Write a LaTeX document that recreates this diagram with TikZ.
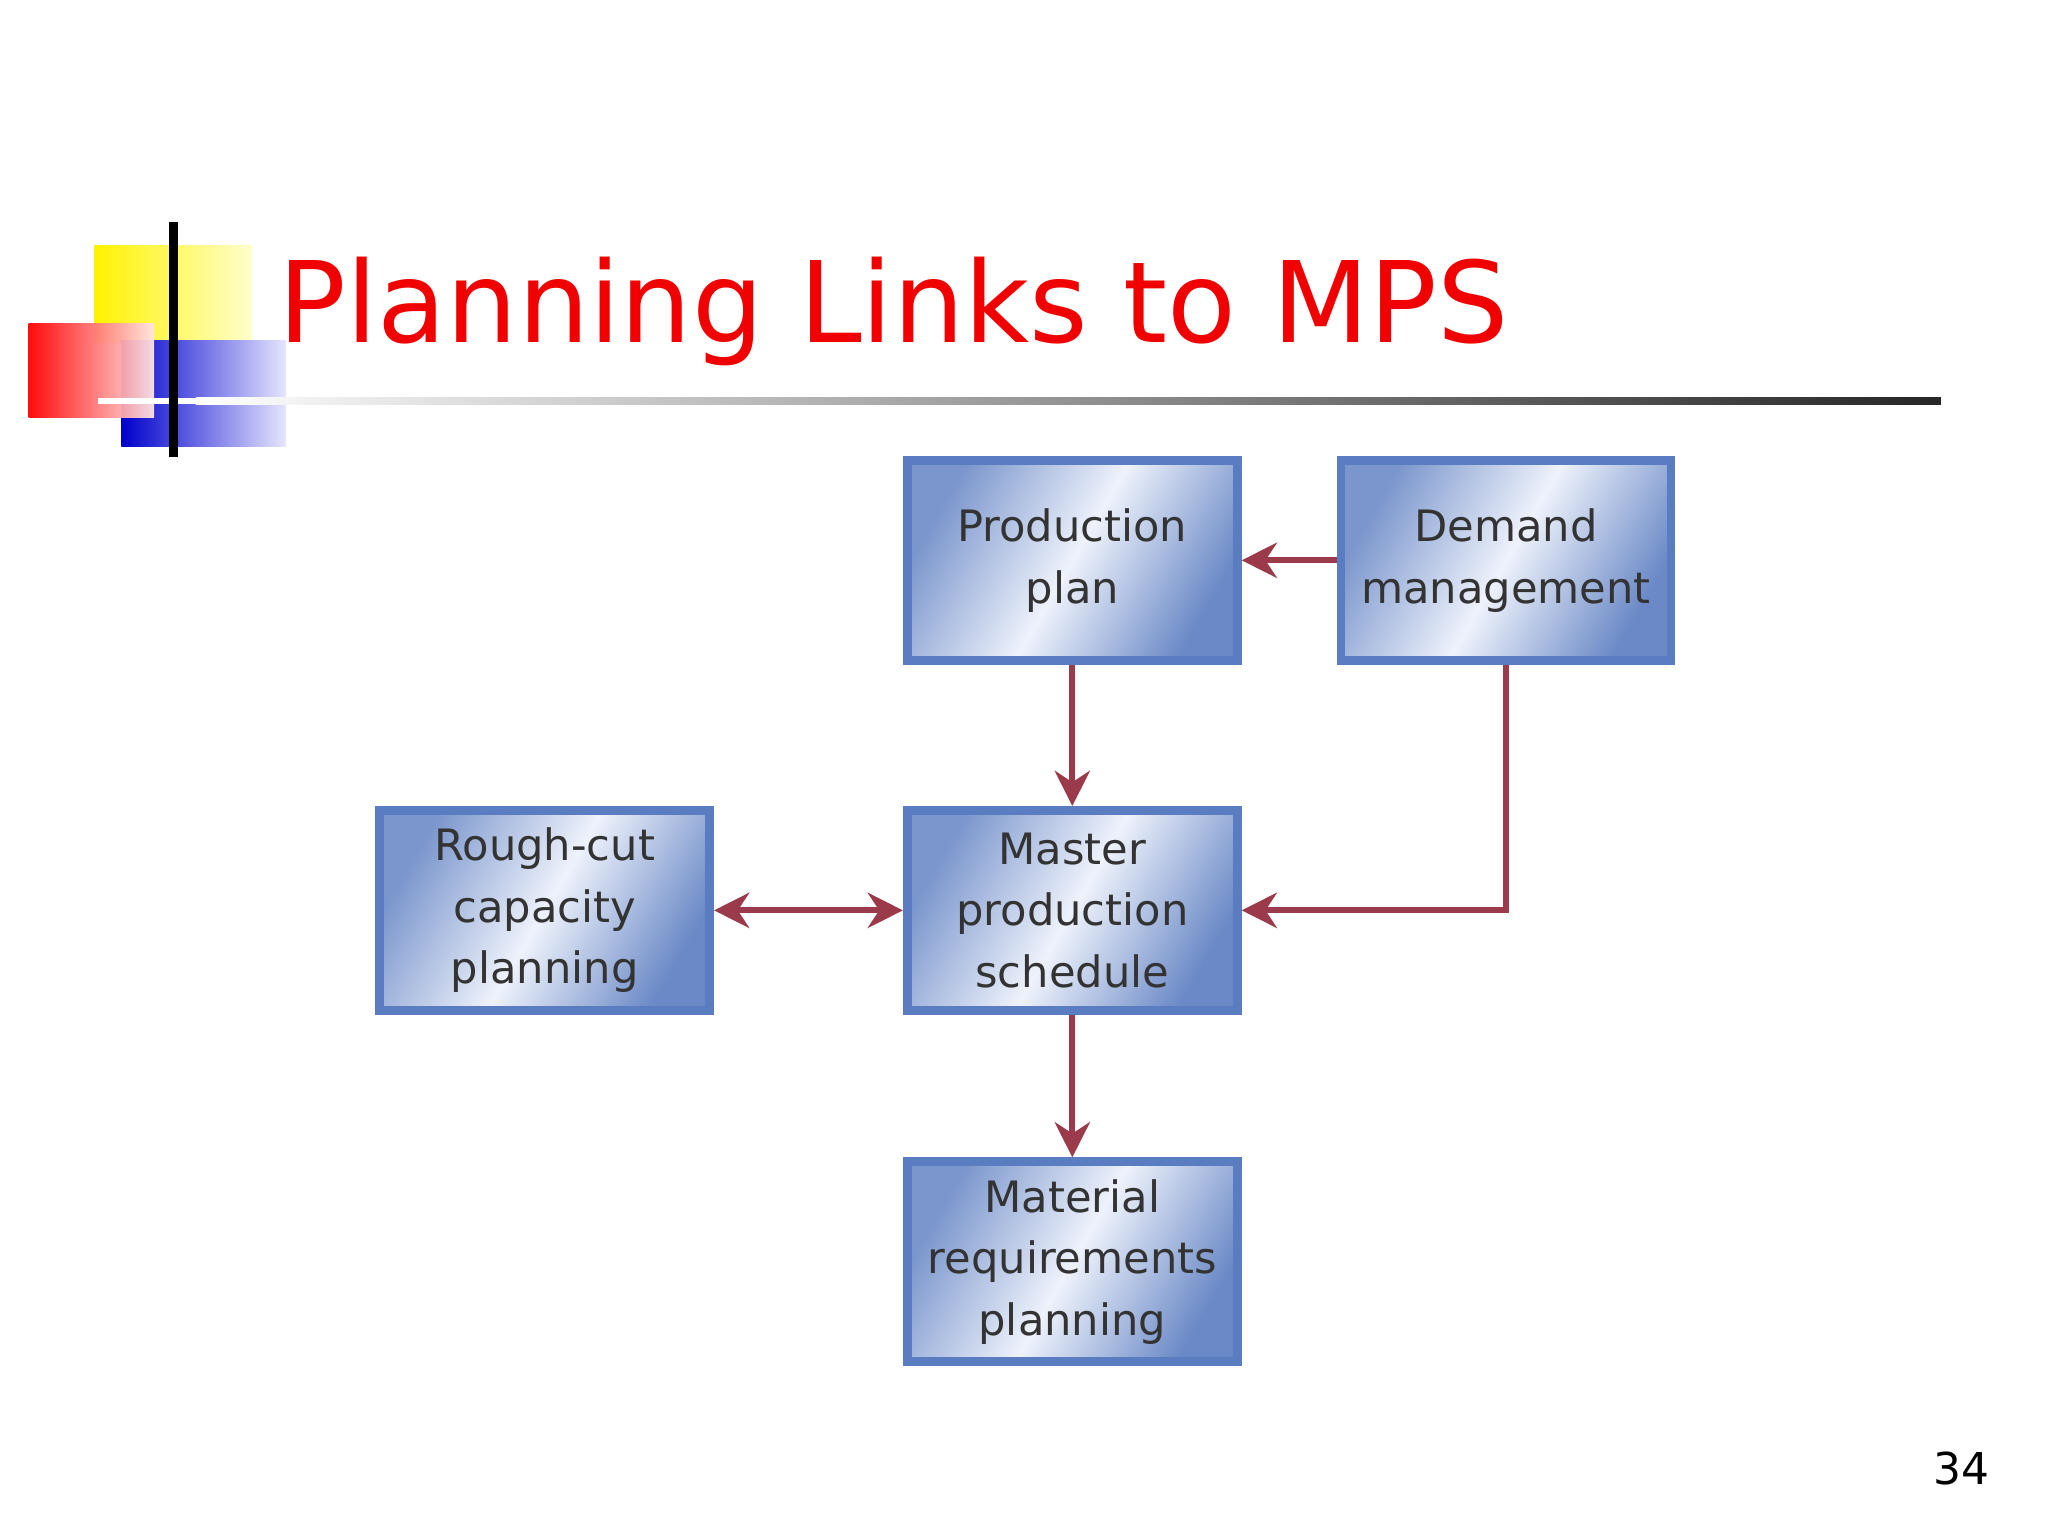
\documentclass[tikz,border=0pt]{standalone}
\usepackage{fontspec}
\setmainfont{DejaVu Sans}
\usetikzlibrary{arrows.meta}
\definecolor{arr}{HTML}{9B3A4A}
\definecolor{bdark}{HTML}{5A7CC0}
\definecolor{blight}{HTML}{EEF2FB}
\definecolor{titlered}{HTML}{F00000}
\tikzset{
 box/.style={draw=bdark, line width=2.5pt, minimum width=3.3cm, minimum height=2cm, inner xsep=2pt,
   align=center, font=\fontsize{12.3}{17.5}\selectfont, text=black!80,
   left color=bdark!80, right color=bdark!90, middle color=blight, shading angle=60},
 conn/.style={draw=arr, line width=1.7pt, -{Stealth[length=10pt,width=10pt]}},
 conn2/.style={draw=arr, line width=1.7pt, {Stealth[length=10pt,width=10pt]}-{Stealth[length=10pt,width=10pt]}}
}
\begin{document}
\begin{tikzpicture}[x=0.01306cm,y=-0.01306cm]
\useasboundingbox (0,0) rectangle (1568,1176);
% logo
\shade[left color=yellow!90!orange, right color=yellow!20] (72,188) rectangle (193,262);
\shade[left color=blue!80!black, right color=blue!10] (93,261) rectangle (219,342);
\shade[left color=red, right color=red!10, opacity=0.95] (22,248) rectangle (118,320);
\draw[white, line width=1.5pt] (75,307) -- (220,307);
\draw[black, line width=2.5pt] (133,170) -- (133,350);
\shade[left color=white, right color=black!85] (150,304.5) rectangle (1486,309.5);
\node[anchor=base west, text=titlered, font=\fontsize{32}{38}\selectfont, inner sep=0] (title) at (213,262) {Planning Links to MPS};
% boxes
\node[box] (pp) at (821,429) {Production\\plan};
\node[box] (dm) at (1153,429) {Demand\\management};
\node[box] (rc) at (417,697) {Rough-cut\\capacity\\planning};
\node[box] (mps) at (821,697) {Master\\production\\schedule};
\node[box] (mrp) at (821,966) {Material\\requirements\\planning};
% connectors
\draw[conn] (dm.west) -- (pp.east);
\draw[conn] (pp.south) -- (mps.north);
\draw[conn] (mps.south) -- (mrp.north);
\draw[conn2] (rc.east) -- (mps.west);
\draw[conn] (dm.south) |- (mps.east);
\node[font=\fontsize{12.5}{15}\selectfont] (pg) at (1502,1124) {34};
\end{tikzpicture}
\end{document}
